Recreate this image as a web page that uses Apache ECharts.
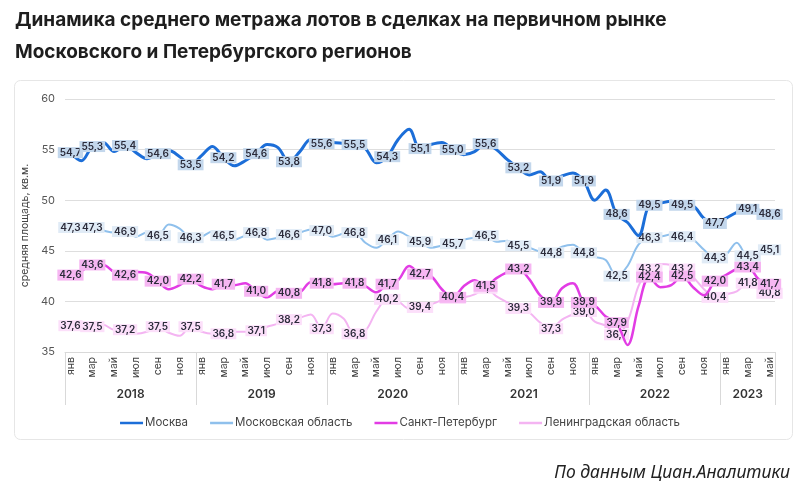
<!DOCTYPE html>
<html>
<head>
<meta charset="utf-8">
<script src="https://cdn.jsdelivr.net/npm/echarts@6/dist/echarts.min.js"></script>
<style>
html,body{margin:0;padding:0;background:#fff;}
#chart{width:800px;height:492px;}
</style>
</head>
<body>
<div id="chart"></div>
<script>
const monthNames = ['янв','фев','мар','апр','май','июн','июл','авг','сен','окт','ноя','дек'];
const years = ['2018','2019','2020','2021','2022','2023'];
const yearBoundaries = [0, 12, 24, 36, 48, 60, 65];
const yearCenters = [6, 18, 30, 42, 54, 62.5];
const seriesNames = ['Москва', 'Московская область', 'Санкт-Петербург', 'Ленинградская область'];

const moscow = [54.7,53.9,55.3,55.7,54.8,55.4,54.7,54.1,54.6,54.9,54.3,53.5,
  54.4,55.3,54.2,53.4,53.9,54.6,55.5,55.2,53.8,54.8,56.0,55.6,
  55.7,55.6,55.5,55.1,53.7,54.3,56.0,57.0,55.1,55.5,55.7,55.0,
  54.5,54.8,55.6,55.0,54.0,53.2,52.5,52.8,51.9,52.4,52.7,51.9,
  50.0,51.0,48.6,47.8,46.5,49.5,49.7,49.9,49.5,49.4,48.2,47.7,
  48.2,48.8,49.1,49.0,48.6];
const moscowRegion = [47.3,47.1,47.3,47.0,46.8,46.9,46.4,46.8,46.5,47.6,47.2,46.3,
  46.4,46.9,46.5,46.1,46.5,46.8,46.1,46.3,46.6,46.8,47.1,47.0,
  46.4,46.7,46.8,45.8,45.3,46.1,46.9,46.4,45.9,45.3,45.5,45.7,
  46.1,46.3,46.5,45.9,46.0,45.5,45.3,44.9,44.8,45.4,45.6,44.8,
  44.4,44.1,42.5,43.5,45.6,46.3,46.4,46.6,46.4,46.1,45.1,44.3,
  44.6,45.8,44.5,44.9,45.1];
const spb = [42.6,43.0,43.6,43.6,42.9,42.6,42.9,42.8,42.0,41.2,41.6,42.2,
  41.5,41.2,41.7,41.6,41.8,41.0,40.4,41.0,40.8,40.9,41.9,41.8,
  41.7,41.8,41.8,41.5,40.9,41.7,42.1,43.5,42.7,42.5,41.2,40.4,
  41.5,42.1,41.5,42.3,42.9,43.2,42.2,40.6,39.9,41.3,41.8,39.9,
  39.6,38.5,37.9,35.7,39.5,42.4,41.4,41.6,42.5,41.4,40.6,42.0,
  42.6,43.2,43.4,42.2,41.7];
const leningrad = [37.6,37.4,37.5,37.7,37.2,37.2,36.8,37.0,37.5,36.9,36.6,37.5,
  37.0,36.8,36.8,37.0,37.0,37.1,37.5,37.8,38.2,38.4,38.7,37.3,
  38.8,38.3,36.8,37.1,39.0,40.2,40.0,39.3,39.4,39.7,40.1,40.3,
  40.4,40.7,41.3,40.5,39.9,39.3,38.9,37.9,37.3,38.2,38.7,39.0,
  38.0,37.6,36.7,38.0,41.5,43.2,43.7,43.6,43.2,42.4,41.2,40.4,
  40.7,41.0,41.8,41.4,40.8];

const categories = [];
for (let y = 0; y < years.length; y++) {
  for (let m = 0; m < 12; m++) {
    if (categories.length < moscow.length) categories.push(monthNames[m] + ' ' + years[y]);
  }
}
function isLabeled(i) { return i === 0 || i % 3 === 2 || i === moscow.length - 1; }

const FONT = 'Inter, "Noto Sans", sans-serif';
const lineColors = ['#1c6ed8', '#8fc0ec', '#e23ce4', '#f4b4f2'];
const labelBg = ['#c3d7ec', '#e0ebf6', '#f6b6f2', '#fcdffa'];
const lineWidths = [3, 2, 2.5, 2];
const allData = [moscow, moscowRegion, spb, leningrad];

const series = allData.map((arr, s) => ({
  name: seriesNames[s],
  type: 'line',
  smooth: 0.35,
  symbol: 'circle',
  symbolSize: 0,
  showSymbol: true,
  itemStyle: { color: lineColors[s] },
  lineStyle: { color: lineColors[s], width: lineWidths[s] },
  label: {
    show: false,
    position: 'inside',
    fontFamily: FONT,
    fontSize: 10,
    fontWeight: 600,
    color: '#2b2b3a',
    backgroundColor: labelBg[s],
    padding: [1, 2, 0, 2],
    formatter: p => p.value.toFixed(1).replace('.', ',')
  },
  data: arr.map((v, i) => isLabeled(i) ? { value: v, label: { show: true } } : v),
  z: 2 + (3 - s)
}));

const chart = echarts.init(document.getElementById('chart'), null, { renderer: 'canvas' });
chart.setOption({
  animation: false,
  backgroundColor: '#fff',
  title: {
    text: 'Динамика среднего метража лотов в сделках на первичном рынке\nМосковского и Петербургского регионов',
    left: 10, top: -1,
    textStyle: { fontFamily: FONT, fontSize: 19, fontWeight: 'bold', color: '#1e1e1e', lineHeight: 32 }
  },
  graphic: [
    { type: 'rect', left: 12, top: 78, shape: { width: 778, height: 359, r: 6 },
      style: { fill: 'none', stroke: '#e6e6e6', lineWidth: 1 }, z: -10 },
    { type: 'text', right: 10, top: 464,
      style: { text: 'По данным Циан.Аналитики', font: 'italic 17.5px "Noto Sans", sans-serif', fill: '#222' } }
  ],
  legend: {
    data: seriesNames,
    bottom: 58,
    left: 'center',
    icon: 'rect',
    itemWidth: 23,
    itemHeight: 2.5,
    itemGap: 22,
    textStyle: { fontFamily: FONT, fontSize: 11.5, color: '#444', padding: [0, 0, 0, -3] }
  },
  grid: { left: 65, right: 25, top: 99, bottom: 140, containLabel: false },
  xAxis: [
    {
      type: 'category',
      data: categories,
      boundaryGap: true,
      axisLine: { show: true, lineStyle: { color: '#d9d9d9', width: 1 } },
      axisTick: { show: false },
      axisLabel: {
        interval: 1, rotate: 90, margin: 5,
        fontFamily: FONT, fontSize: 10.5, color: '#444',
        formatter: v => v.split(' ')[0]
      }
    },
    {
      type: 'value',
      position: 'bottom',
      min: 0, max: moscow.length,
      axisLine: { show: false },
      splitLine: { show: false },
      axisTick: { show: true, customValues: yearBoundaries, length: 53, lineStyle: { color: '#d9d9d9' } },
      axisLabel: {
        show: true, customValues: yearCenters, margin: 36,
        fontFamily: FONT, fontSize: 12, fontWeight: 600, color: '#333',
        formatter: v => years[Math.floor(v / 12)]
      }
    }
  ],
  yAxis: {
    type: 'value',
    min: 35, max: 60, interval: 5,
    name: 'средняя площадь, кв.м.',
    nameLocation: 'middle',
    nameGap: 29,
    nameTextStyle: { fontFamily: FONT, fontSize: 10.5, color: '#444' },
    axisLine: { show: false },
    axisTick: { show: false },
    axisLabel: { margin: 10, fontFamily: FONT, fontSize: 11, color: '#555' },
    splitLine: { lineStyle: { color: '#dedede', width: 1 } }
  },
  series: series
});
</script>
</body>
</html>
